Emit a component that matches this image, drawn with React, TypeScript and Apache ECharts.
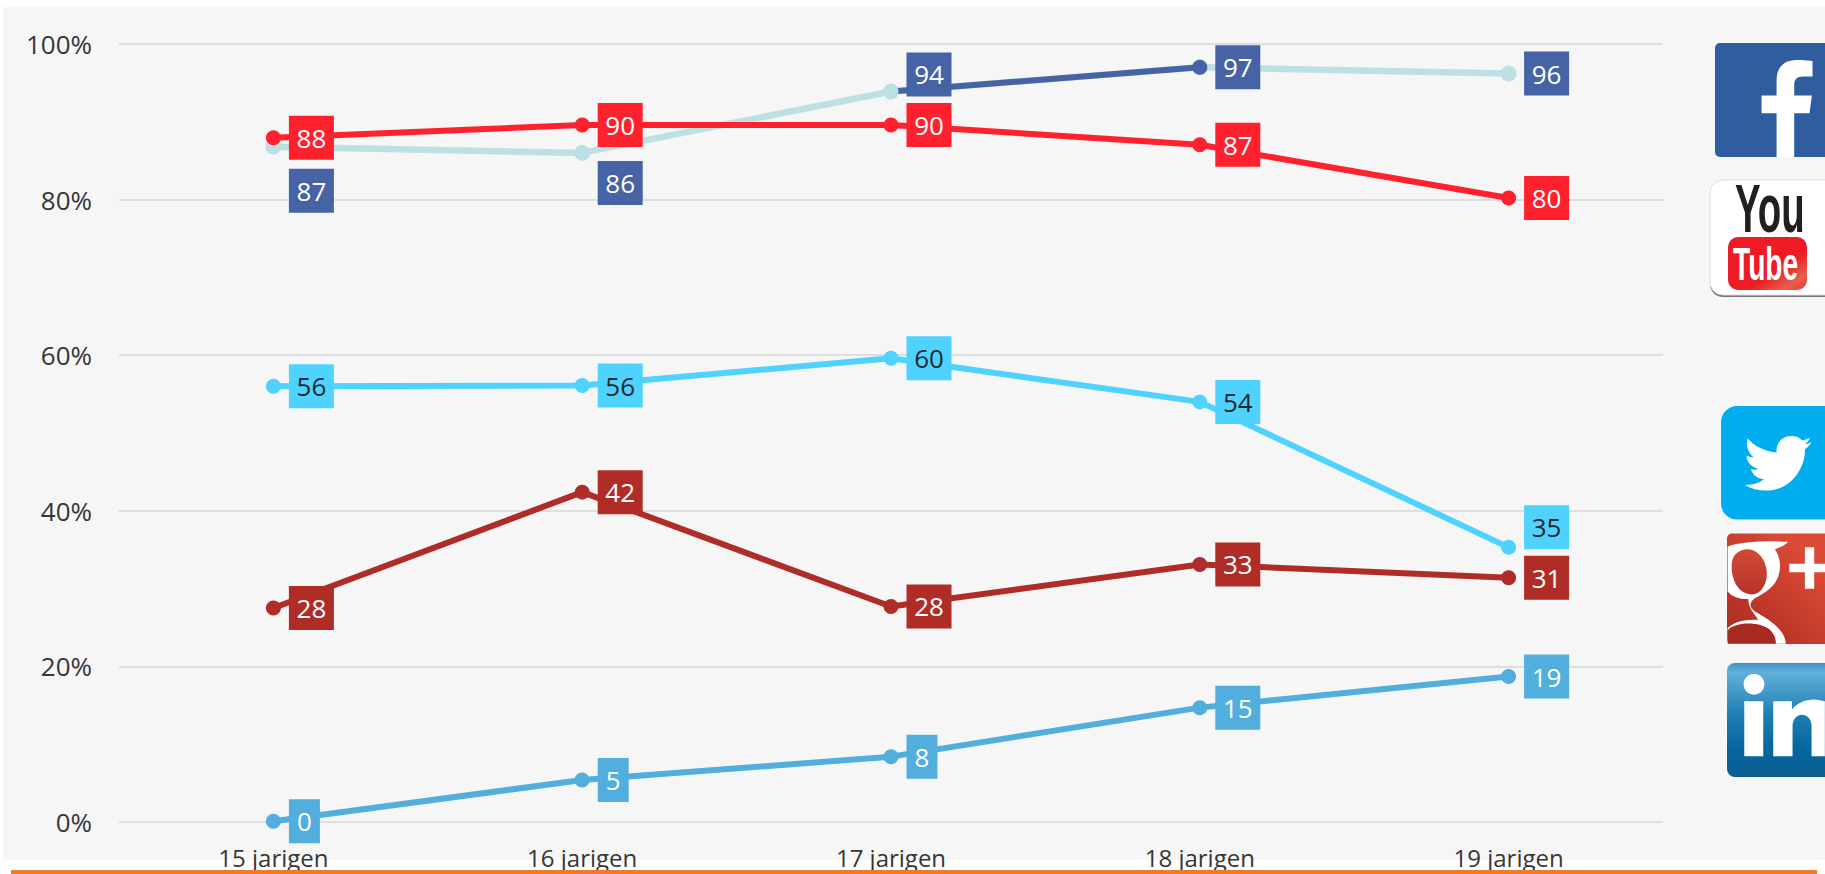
import React, { useEffect, useRef } from "react";
import * as echarts from "echarts";

const categories = ["15 jarigen", "16 jarigen", "17 jarigen", "18 jarigen", "19 jarigen"];
const facebook = [86.8, 86.0, 93.9, 97.0, 96.2];
const facebookLabels = ["87", "86", "94", "97", "96"];
const youtube = [87.95, 89.6, 89.6, 87.05, 80.2];
const youtubeLabels = ["88", "90", "90", "87", "80"];
const twitter = [56.0, 56.1, 59.6, 54.0, 35.3];
const twitterLabels = ["56", "56", "60", "54", "35"];
const googlePlus = [27.5, 42.4, 27.7, 33.1, 31.4];
const googlePlusLabels = ["28", "42", "28", "33", "31"];
const linkedin = [0.1, 5.4, 8.4, 14.7, 18.7];
const linkedinLabels = ["0", "5", "8", "15", "19"];

const FONT = "'Open Sans', 'Noto Sans', sans-serif";
const TEAL = "#BCE0E3";
const BLUE = "#4563A5";
const RED = "#FF212D";
const SKY = "#50D2FE";
const BRICK = "#B02D27";
const LIGHTBLUE = "#52AEDC";

const pts = (name: string, d: string) => echarts.graphic.registerShape(name, echarts.graphic.extendPath(d as any, {} as any) as any);

const fPath = "M290 472 L290 340 L245 340 L245 287 L290 287 L290 240 C290 200 315 180 350 180 C370 180 390 182 398 183 L398 230 L370 230 C350 230 343 240 343 255 L343 287 L396 287 L389 340 L343 340 L343 472 Z";
const birdPath = "M195 285 C225 285 240 278 252 268 C232 266 218 255 213 238 C220 240 228 240 235 237 C215 232 200 217 200 197 C207 200 214 203 222 203 C205 190 198 168 203 146 C225 170 255 185 290 188 C288 160 305 138 335 138 C350 138 360 144 367 152 C376 150 384 147 391 142 C388 151 382 158 374 163 C382 162 389 160 395 157 C390 165 383 172 375 178 C378 225 340 302 258 302 C235 302 213 296 195 285 Z";
const gOuter = "M143 470 C180 455 270 452 325 456 C315 468 300 472 285 478 C300 500 305 530 295 560 C285 590 255 610 225 625 C210 635 205 650 225 665 C270 690 315 720 318 762 L143 762 L143 715 C170 690 205 690 235 690 C222 670 205 655 205 628 C185 628 160 625 143 605 Z";
const gBowl = "M170 490 C200 465 245 480 258 530 C270 580 240 620 210 613 C175 610 155 570 155 530 C155 510 160 498 170 490 Z";
const gLower = "M143 722 C165 695 240 695 270 720 C285 735 288 750 288 762 L143 762 Z";
const gPlus = "M375 472 L403 472 L403 522 L440 522 L440 547 L403 547 L403 597 L375 597 L375 547 L328 547 L328 522 L375 522 Z";
const inPath = "M193 935 L250 935 L250 1100 L193 1100 Z M280 935 L336 935 L336 960 C350 940 380 928 410 930 C425 931 435 935 435 935 L435 1100 L395 1100 L395 1010 C395 985 380 975 365 975 C350 975 338 990 338 1010 L338 1100 L280 1100 Z";

pts("iconF", fPath);
pts("iconBird", birdPath);
pts("iconGOuter", gOuter);
pts("iconGBowl", gBowl);
pts("iconGLower", gLower);
pts("iconGPlus", gPlus);
pts("iconIn", inPath);

const labelShift: Record<string, number> = {
  "facebook-0": 44,
  "facebook-1": 30,
  "facebook-2": -17,
  "twitter-4": -20,
};

function labelled(values: number[], labels: string[], bg: string, fg: string) {
  return values.map((v, i) => {
    const wide = labels[i].length > 1;
    return {
      value: v,
      label: {
        show: true,
        position: "inside",
        formatter: labels[i],
        width: wide ? 45 : 31,
        height: 44,
        lineHeight: 44,
        align: "center",
        verticalAlign: "middle",
        backgroundColor: bg,
        color: fg,
        fontFamily: FONT,
        fontSize: 26,
      },
    };
  });
}

function line(name: string, key: string, data: any[], color: string, width: number, size: number, z: number, labels?: string[]) {
  return {
    type: "line",
    name,
    data,
    z,
    symbol: "circle",
    symbolSize: size,
    showSymbol: true,
    showAllSymbol: true,
    clip: false,
    lineStyle: { color, width },
    itemStyle: { color },
    labelLayout: labels
      ? (p: any) => ({
          dx: labels[p.dataIndex].length > 1 ? 38 : 31,
          dy: labelShift[`${key}-${p.dataIndex}`] || 0,
          hideOverlap: false,
        })
      : undefined,
    emphasis: { disabled: true },
  };
}

const iconAt = (type: string, ox: number, oy: number, fill: any, z = 5) => ({
  type, x: ox, y: oy, scaleX: 1 / 3, scaleY: 1 / 3, z, style: { fill },
});

const grad = (x: number, y: number, x2: number, y2: number, stops: [number, string][]) =>
  new echarts.graphic.LinearGradient(x, y, x2, y2, stops.map(([offset, color]) => ({ offset, color })));

export default function App() {
  const ref = useRef<HTMLDivElement>(null);
  useEffect(() => {
    const chart = echarts.init(ref.current!, undefined, { renderer: "svg" });
    const fbDark: any[] = facebook.map((v, i) => {
      if (i === 2) return { value: v, itemStyle: { color: TEAL } };
      if (i === 3) return { value: v };
      return null;
    });
    chart.setOption({
      animation: false,
      backgroundColor: "#FFFFFF",
      grid: { left: 119, top: 44, width: 1544, height: 778, containLabel: false },
      tooltip: { show: false },
      xAxis: {
        type: "category",
        data: categories,
        boundaryGap: true,
        axisLine: { show: false },
        axisTick: { show: false },
        axisLabel: { color: "#363636", fontFamily: FONT, fontSize: 24, margin: 23, interval: 0 },
      },
      yAxis: {
        type: "value",
        min: 0,
        max: 100,
        interval: 20,
        axisLine: { show: false },
        axisTick: { show: false },
        axisLabel: { color: "#363636", fontFamily: FONT, fontSize: 26, margin: 27, formatter: "{value}%" },
        splitLine: { lineStyle: { color: "#DEDEDE", width: 2 } },
      },
      series: [
        line("Facebook", "facebook", labelled(facebook, facebookLabels, BLUE, "#FFFFFF"), TEAL, 6.5, 16, 2, facebookLabels),
        line("Facebook recent", "facebookRecent", fbDark, BLUE, 6, 15, 3),
        line("YouTube", "youtube", labelled(youtube, youtubeLabels, RED, "#FFFFFF"), RED, 6, 15, 4, youtubeLabels),
        line("Twitter", "twitter", labelled(twitter, twitterLabels, SKY, "#1F2A30"), SKY, 6, 15, 4, twitterLabels),
        line("Google+", "google", labelled(googlePlus, googlePlusLabels, BRICK, "#FFFFFF"), BRICK, 6, 15, 4, googlePlusLabels),
        line("LinkedIn", "linkedin", labelled(linkedin, linkedinLabels, LIGHTBLUE, "#FFFFFF"), LIGHTBLUE, 6, 15, 4, linkedinLabels),
      ],
      graphic: [
        { type: "rect", z: -10, silent: true, shape: { x: 3, y: 7, width: 1830, height: 853 }, style: { fill: "#F6F6F6" } },
        { type: "rect", z: 100, silent: true, shape: { x: 11, y: 870, width: 1806, height: 4 }, style: { fill: "#EE7B2A" } },
        // Facebook
        { type: "rect", z: 4, shape: { x: 1715, y: 43, width: 130, height: 114, r: 5 }, style: { fill: "#2F5D9F" } },
        iconAt("iconF", 1680, 0, "#FFFFFF"),
        // YouTube
        { type: "rect", z: 3, shape: { x: 1710, y: 182, width: 130, height: 115, r: 13 }, style: { fill: "#777777" } },
        { type: "rect", z: 4, shape: { x: 1710, y: 180, width: 130, height: 115, r: 13 }, style: { fill: "#FFFFFF", stroke: "#DDDDDD", lineWidth: 1 } },
        { type: "text", z: 5, x: 1735, y: 175, scaleX: 0.565, style: { text: "You", fill: "#231F20", fontFamily: "'Liberation Sans', sans-serif", fontWeight: "bold", fontSize: 68 } },
        { type: "rect", z: 5, shape: { x: 1728, y: 237, width: 79, height: 53, r: 10 }, style: { fill: grad(0, 0, 1, 1, [[0, "#ED1C24"], [0.62, "#ED1C24"], [0.85, "#E8604F"], [1, "#E9302F"]]) } },
        { type: "text", z: 6, x: 1733, y: 240, scaleX: 0.6, style: { text: "Tube", fill: "#FFFFFF", fontFamily: "'Liberation Sans', sans-serif", fontWeight: "bold", fontSize: 47 } },
        // Twitter
        { type: "rect", z: 4, shape: { x: 1721, y: 406, width: 130, height: 113.5, r: 16 }, style: { fill: "#00AEEF" } },
        iconAt("iconBird", 1680, 390, "#FFFFFF"),
        // Google+
        { type: "rect", z: 4, shape: { x: 1727, y: 533.5, width: 110, height: 110.5, r: 5 }, style: { fill: grad(0, 1, 1, 0, [[0, "#A82A20"], [0.45, "#C63D2C"], [0.75, "#DB4A35"], [1, "#D94A36"]]) } },
        iconAt("iconGOuter", 1680, 390, "#FFFFFF"),
        iconAt("iconGBowl", 1680, 390, grad(0, 0, 0, 1, [[0, "#D24A36"], [1, "#B5332A"]]), 6),
        iconAt("iconGLower", 1680, 390, "#A82A20", 6),
        iconAt("iconGPlus", 1680, 390, "#FFFFFF"),
        // LinkedIn
        { type: "rect", z: 4, shape: { x: 1727, y: 663, width: 110, height: 114, r: 8 }, style: { fill: grad(0, 0, 0, 1, [[0, "#3D93C8"], [0.08, "#62B0DA"], [0.45, "#1E7FB4"], [0.75, "#06679F"], [1, "#0A5E8F"]]) } },
        { type: "circle", z: 5, shape: { cx: 1754, cy: 684.3, r: 10.4 }, style: { fill: "#FFFFFF" } },
        iconAt("iconIn", 1680, 390, "#FFFFFF"),
      ],
    });
    return () => chart.dispose();
  }, []);
  return <div ref={ref} style={{ position: "absolute", left: 0, top: 0, width: 1825, height: 874 }} />;
}
